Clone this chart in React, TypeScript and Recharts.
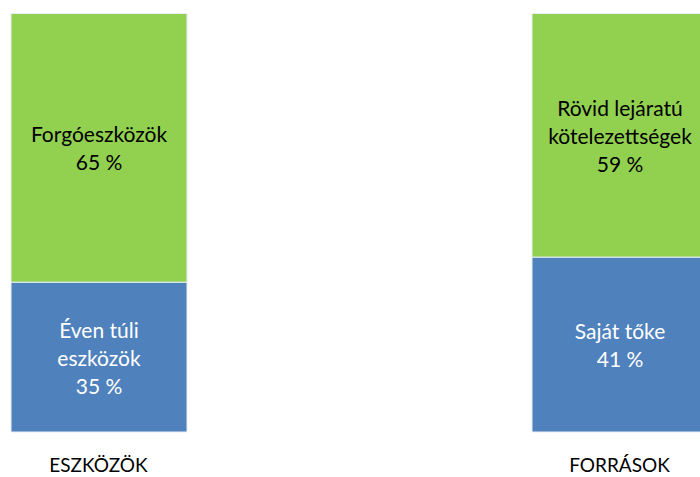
import { BarChart, Bar, XAxis, YAxis, LabelList } from "recharts";

const categories = ["ESZKÖZÖK", "FORRÁSOK"];
const lowerValues = [35.8, 41.8];
const upperValues = [64.2, 58.2];
const lowerLabels = ["Éven túli\neszközök\n35 %", "Saját tőke\n41 %"];
const upperLabels = ["Forgóeszközök\n65 %", "Rövid lejáratú\nkötelezettségek\n59 %"];

const data = categories.map((name, i) => ({
  name,
  lower: lowerValues[i],
  upper: upperValues[i],
  lowerText: lowerLabels[i],
  upperText: upperLabels[i],
}));

const FONT = "Lato, 'Open Sans', sans-serif";

function MultiLine(color: string) {
  return (props: any) => {
    const { x, y, width, height, value } = props;
    const lines = String(value).split("\n");
    const lh = 28;
    const cx = Number(x) + Number(width) / 2;
    const cy = Number(y) + Number(height) / 2;
    const start = cy - ((lines.length - 1) * lh) / 2;
    return (
      <text textAnchor="middle" fill={color} fontSize={21} fontFamily={FONT}>
        {lines.map((l, i) => (
          <tspan key={i} x={cx} y={start + i * lh} dominantBaseline="central">
            {l}
          </tspan>
        ))}
      </text>
    );
  };
}

const CategoryTick = (props: any) => {
  const { x, y, payload } = props;
  return (
    <text x={x} y={y + 24} textAnchor="middle" dominantBaseline="central" fontSize={19} fontFamily={FONT} fill="#000">
      {payload.value}
    </text>
  );
};

export default function App() {
  return (
    <div style={{ position: "relative", width: 700, height: 477, overflow: "hidden", background: "#fff" }}>
      <style>{"body{margin:0}"}</style>
      <div style={{ position: "absolute", left: -162.5, top: 0 }}>
        <BarChart width={1100} height={477} data={data} margin={{ top: 13.5, right: 58, bottom: 0, left: 0 }} barSize={176}>
          <XAxis dataKey="name" axisLine={false} tickLine={false} height={45} tick={<CategoryTick />} interval={0} />
          <YAxis hide domain={[0, 100]} />
          <Bar dataKey="lower" stackId="a" fill="#4F81BD" stroke="#e8eef6" strokeWidth={1} isAnimationActive={false}>
            <LabelList dataKey="lowerText" content={MultiLine("#ffffff")} />
          </Bar>
          <Bar dataKey="upper" stackId="a" fill="#92D050" stroke="#e8eef6" strokeWidth={1} isAnimationActive={false}>
            <LabelList dataKey="upperText" content={MultiLine("#000000")} />
          </Bar>
        </BarChart>
      </div>
    </div>
  );
}
